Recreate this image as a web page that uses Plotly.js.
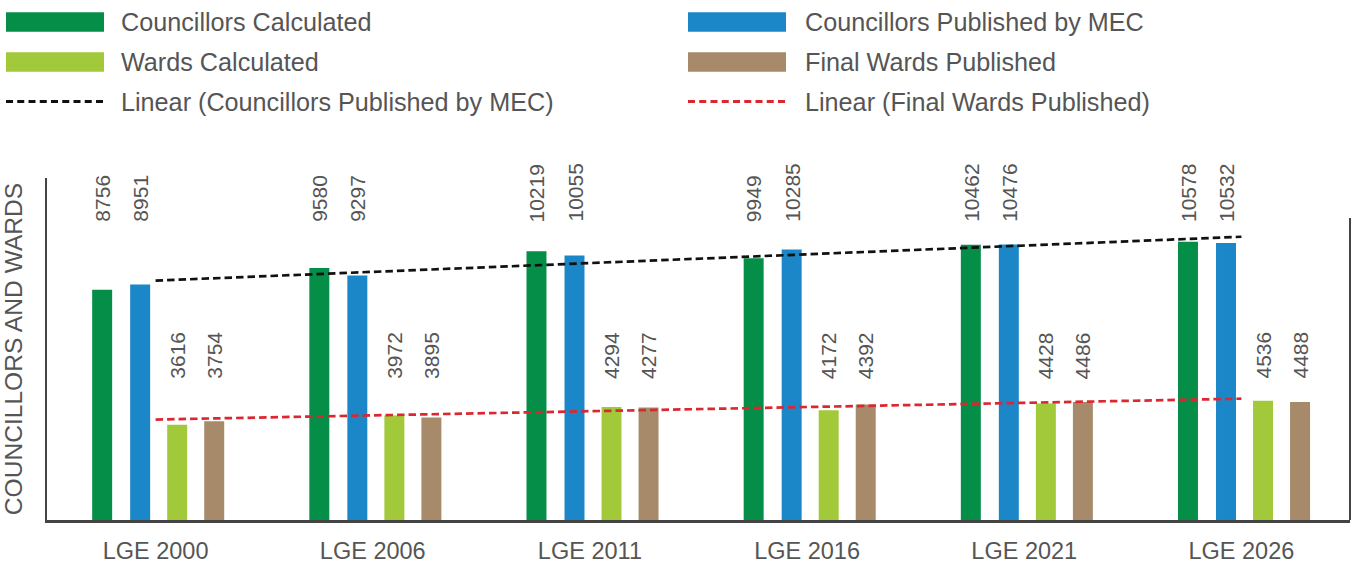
<!DOCTYPE html>
<html>
<head>
<meta charset="utf-8">
<script src="https://cdn.plot.ly/plotly-3.0.1.min.js"></script>
<style>html,body{margin:0;padding:0;background:#fff;}#chart{width:1352px;height:563px;}</style>
</head>
<body>
<div id="chart"></div>
<script>
// ---- data ----
const categories = ['LGE 2000', 'LGE 2006', 'LGE 2011', 'LGE 2016', 'LGE 2021', 'LGE 2026'];
const councillorsCalculated = [8756, 9580, 10219, 9949, 10462, 10578];
const councillorsPublished = [8951, 9297, 10055, 10285, 10476, 10532];
const wardsCalculated = [3616, 3972, 4294, 4172, 4428, 4536];
const finalWardsPublished = [3754, 3895, 4277, 4392, 4486, 4488];
const seriesNames = ['Councillors Calculated', 'Councillors Published by MEC', 'Wards Calculated', 'Final Wards Published'];
const trendNames = ['Linear (Councillors Published by MEC)', 'Linear (Final Wards Published)'];

// ---- layout constants ----
const W = 1352, H = 563;
const M = {l: 47, r: 2, t: 178, b: 43};
const PW = W - M.l - M.r, PH = H - M.t - M.b;
const px2paperX = p => (p - M.l) / PW;
const px2paperY = p => (H - M.b - p) / PH;

const colors = ['#058e47', '#1b87c9', '#a2c93a', '#a68a6a'];
const barCenter = [-0.246, -0.071, 0.0995, 0.27];
const barW = 0.092;
const textColor = '#555555';
const font = 'Liberation Sans, Arial, Helvetica, sans-serif';

const xIdx = categories.map((_, i) => i);
const allSeries = [councillorsCalculated, councillorsPublished, wardsCalculated, finalWardsPublished];

const traces = allSeries.map((vals, k) => ({
  type: 'bar',
  name: seriesNames[k],
  x: xIdx,
  y: vals,
  width: barW,
  offset: barCenter[k] - barW / 2,
  marker: {color: colors[k], line: {width: 0}},
  showlegend: false,
  hoverinfo: 'name+y'
}));

function linearFit(vals) {
  const n = vals.length;
  const mx = (n - 1) / 2;
  const my = vals.reduce((a, b) => a + b, 0) / n;
  let sxy = 0, sxx = 0;
  vals.forEach((v, i) => { sxy += (i - mx) * (v - my); sxx += (i - mx) * (i - mx); });
  const b = sxy / sxx, a = my - b * mx;
  return vals.map((_, i) => a + b * i);
}

const trendColors = ['#111111', '#db2830'];
const trendDash = '7.5px,4px';
[councillorsPublished, finalWardsPublished].forEach((vals, k) => {
  traces.push({
    type: 'scatter',
    mode: 'lines',
    name: trendNames[k],
    x: xIdx,
    y: linearFit(vals),
    line: {color: trendColors[k], width: 2.7, dash: trendDash},
    showlegend: false,
    hoverinfo: 'skip'
  });
});

// value labels
const annotations = [];
const labelLevels = [px2paperY(223), px2paperY(380)];
allSeries.forEach((vals, k) => {
  vals.forEach((v, i) => {
    annotations.push({
      x: i + barCenter[k], xref: 'x',
      y: labelLevels[k < 2 ? 0 : 1], yref: 'paper',
      text: String(v),
      textangle: -90,
      showarrow: false,
      xanchor: 'center', yanchor: 'bottom',
      borderpad: 0,
      font: {family: font, size: 21, color: textColor}
    });
  });
});

// custom legend
const shapes = [];
const legendRows = [22, 62, 101.5];
const legendCols = [{sx0: 6, sx1: 104, tx: 120}, {sx0: 688, sx1: 786, tx: 804}];
const legendItems = [
  {name: seriesNames[0], kind: 'bar', color: colors[0], col: 0, row: 0},
  {name: seriesNames[1], kind: 'bar', color: colors[1], col: 1, row: 0},
  {name: seriesNames[2], kind: 'bar', color: colors[2], col: 0, row: 1},
  {name: seriesNames[3], kind: 'bar', color: colors[3], col: 1, row: 1},
  {name: trendNames[0], kind: 'line', color: trendColors[0], col: 0, row: 2},
  {name: trendNames[1], kind: 'line', color: trendColors[1], col: 1, row: 2}
];
legendItems.forEach(it => {
  const c = legendCols[it.col], yc = legendRows[it.row];
  if (it.kind === 'bar') {
    shapes.push({type: 'rect', xref: 'paper', yref: 'paper',
      x0: px2paperX(c.sx0), x1: px2paperX(c.sx1),
      y0: px2paperY(yc + 9.7), y1: px2paperY(yc - 9.7),
      fillcolor: it.color, line: {width: 0}});
  } else {
    shapes.push({type: 'line', xref: 'paper', yref: 'paper',
      x0: px2paperX(c.sx0), x1: px2paperX(c.sx1),
      y0: px2paperY(yc), y1: px2paperY(yc),
      line: {color: it.color, width: 3, dash: '7px,4.25px'}});
  }
  annotations.push({
    x: px2paperX(c.tx), xref: 'paper', y: px2paperY(yc), yref: 'paper',
    text: it.name, showarrow: false, xanchor: 'left', yanchor: 'middle',
    borderpad: 0,
    font: {family: font, size: 25.2, color: textColor}
  });
});

// right border line
shapes.push({type: 'line', xref: 'paper', yref: 'paper', x0: 1, x1: 1,
  y0: 0, y1: px2paperY(218), line: {color: '#444444', width: 2}});

const layout = {
  width: W, height: H,
  margin: M,
  paper_bgcolor: '#ffffff', plot_bgcolor: '#ffffff',
  barmode: 'overlay',
  showlegend: false,
  font: {family: font, color: textColor},
  xaxis: {
    range: [-0.5, categories.length - 0.5],
    tickvals: xIdx, ticktext: categories,
    showgrid: false, zeroline: false,
    showline: true, linecolor: '#444444', linewidth: 2.5,
    ticks: '', tickfont: {family: font, size: 23.5, color: textColor},
    ticklabelstandoff: 8,
    fixedrange: true
  },
  yaxis: {
    range: [0, 13000],
    showgrid: false, zeroline: false,
    showticklabels: false, ticks: '',
    showline: true, linecolor: '#444444', linewidth: 2,
    title: {text: 'COUNCILLORS AND WARDS', font: {family: font, size: 24.6, color: textColor}, standoff: 20},
    automargin: true,
    fixedrange: true
  },
  shapes: shapes,
  annotations: annotations
};

Plotly.newPlot('chart', traces, layout, {displayModeBar: false, staticPlot: true});
</script>
</body>
</html>
